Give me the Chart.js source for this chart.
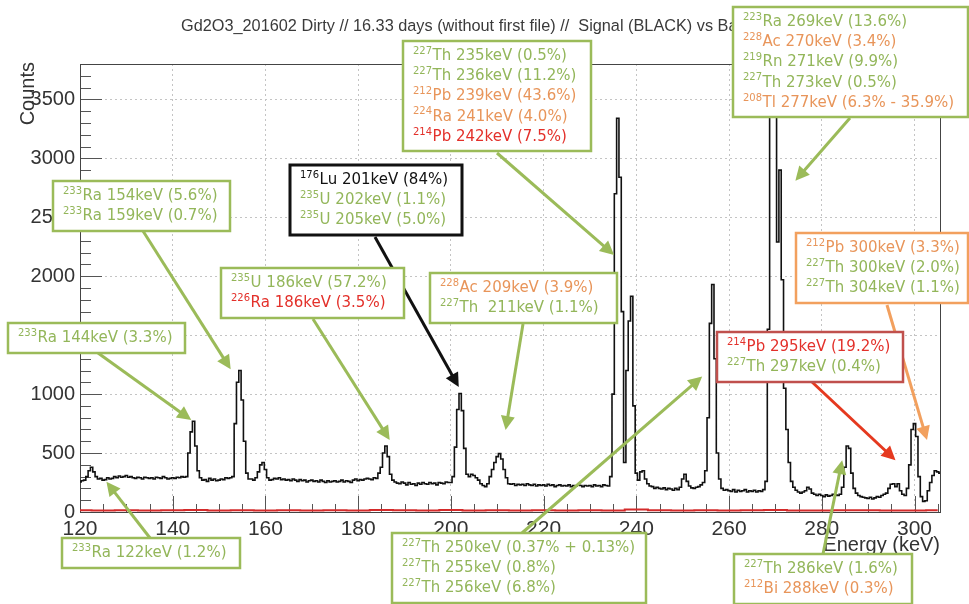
<!DOCTYPE html>
<html>
<head>
<meta charset="utf-8">
<script src="https://cdn.jsdelivr.net/npm/chart.js@4"></script>
<style>
html, body { margin: 0; padding: 0; background: #fff; }
canvas { display: block; }
</style>
</head>
<body>
<canvas id="spectrum" width="969" height="604"></canvas>
<script>
// histogram binning (keV)
const bin_start = 120;
const bin_width = 0.5;

// signal counts per 0.5 keV bin, one row = 5 keV
const signal_counts = [
  255, 265, 270, 300, 350, 380, 340, 300, 280, 285,        // 120
  270, 275, 290, 280, 285, 300, 290, 305, 295, 300,        // 125
  310, 295, 300, 290, 285, 295, 290, 280, 295, 290,        // 130
  285, 290, 280, 295, 290, 285, 300, 290, 280, 285,        // 135
  290, 285, 295, 290, 300, 295, 300, 500, 680, 770,        // 140
  560, 350, 290, 270, 275, 260, 285, 270, 280, 265,        // 145
  270, 280, 275, 290, 285, 290, 300, 750, 1100, 1200,      // 150
  950, 600, 330, 280, 280, 270, 290, 340, 400, 420,        // 155
  360, 290, 270, 275, 285, 280, 290, 275, 280, 270,        // 160
  275, 265, 280, 270, 260, 275, 265, 270, 255, 265,        // 165
  270, 260, 265, 255, 270, 260, 250, 265, 255, 260,        // 170
  265, 255, 260, 270, 255, 265, 260, 250, 270, 280,        // 175
  265, 275, 270, 280, 285, 280, 275, 290, 285, 330,        // 180
  380, 500, 560, 470, 320, 270, 255, 245, 240, 255,        // 185
  245, 230, 250, 235, 240, 225, 245, 235, 250, 240,        // 190
  235, 250, 240, 245, 230, 250, 245, 240, 255, 250,        // 195
  250, 300, 550, 870, 1005, 860, 540, 320, 300, 320,       // 200
  310, 290, 270, 240, 225, 215, 240, 300, 360, 420,        // 205
  470, 495, 450, 360, 290, 240, 235, 240, 225, 235,        // 210
  230, 235, 225, 240, 230, 225, 235, 220, 230, 225,        // 215
  230, 220, 235, 225, 230, 215, 225, 230, 220, 225,        // 220
  220, 230, 215, 225, 220, 230, 225, 215, 225, 220,        // 225
  225, 215, 230, 220, 225, 215, 230, 225, 220, 300,        // 230
  1000, 2700, 3340, 2840, 1700, 420, 1200, 1620, 1830, 900, // 235
  330, 270, 340, 350, 280, 240, 220, 215, 200, 210,        // 240
  200, 195, 205, 190, 200, 195, 185, 200, 190, 210,        // 245
  280, 320, 260, 220, 205, 200, 210, 215, 230, 250,        // 250
  350, 800, 1600, 1930, 1300, 500, 280, 200, 185, 190,     // 255
  180, 175, 190, 170, 185, 175, 180, 190, 170, 180,        // 260
  175, 185, 170, 180, 175, 190, 260, 1550, 3900, 5200,     // 265
  4400, 2290, 2900, 1970, 1050, 700, 420, 260, 210, 185,   // 270
  170, 160, 170, 180, 210, 195, 160, 150, 140, 150,        // 275
  140, 130, 145, 135, 140, 150, 145, 140, 150, 210,        // 280
  380, 560, 540, 330, 200, 160, 140, 130, 125, 120,        // 285
  115, 125, 110, 120, 130, 125, 140, 150, 160, 200,        // 290
  235, 240, 215, 240, 180, 150, 140, 200, 400, 700,        // 295
  750, 640, 300, 130, 90, 95, 180, 250, 310, 350,          // 300
  340, 330                                                 // 305
];

// background (red) counts per 5 keV
const background_start = 120;
const background_step = 5;
const background_counts = [
  14, 12, 15, 13, 14, 16, 12, 15, 13, 14,
  12, 15, 13, 16, 14, 12, 18, 13, 14, 12,
  15, 13, 14, 12, 22, 14, 13, 15, 12, 14,
  16, 13, 12, 14, 15, 13, 12, 14
];

const x_ticks = [120, 140, 160, 180, 200, 220, 240, 260, 280, 300];
const y_ticks = [0, 500, 1000, 1500, 2000, 2500, 3000, 3500];

const title_text = 'Gd2O3_201602 Dirty // 16.33 days (without first file) //  Signal (BLACK) vs Background (RED)';

const colors = {
  g: '#93b65a',
  o: '#e8955a',
  r: '#e3302a',
  k: '#111111'
};

// label boxes: [left, top, width] in px, arrow tip in (keV, counts)
const notes = [
  { box: [53, 181, 177], border: '#9bbb59', bw: 2.5,
    lines: [['233', 'Ra 154keV (5.6%)', 'g'], ['233', 'Ra 159keV (0.7%)', 'g']],
    arrow: { from: [143, 231], to: [152.5, 1210], color: '#9bbb59' } },
  { box: [8, 323, 177], border: '#9bbb59', bw: 2.5,
    lines: [['233', 'Ra 144keV (3.3%)', 'g']],
    arrow: { from: [98, 353], to: [144.0, 780], color: '#9bbb59' } },
  { box: [221, 268, 183], border: '#9bbb59', bw: 2.5,
    lines: [['235', 'U 186keV (57.2%)', 'g'], ['226', 'Ra 186keV (3.5%)', 'r']],
    arrow: { from: [313, 319], to: [186.8, 610], color: '#9bbb59' } },
  { box: [290, 165, 172], border: '#111', bw: 3,
    lines: [['176', 'Lu 201keV (84%)', 'k'], ['235', 'U 202keV (1.1%)', 'g'], ['235', 'U 205keV (5.0%)', 'g']],
    arrow: { from: [375, 237], to: [201.7, 1060], color: '#111' } },
  { box: [430, 273, 187], border: '#9bbb59', bw: 2.5,
    lines: [['228', 'Ac 209keV (3.9%)', 'o'], ['227', 'Th  211keV (1.1%)', 'g']],
    arrow: { from: [523, 324], to: [211.8, 695], color: '#9bbb59' } },
  { box: [403, 41, 188], border: '#9bbb59', bw: 2.5,
    lines: [['227', 'Th 235keV (0.5%)', 'g'], ['227', 'Th 236keV (11.2%)', 'g'], ['212', 'Pb 239keV (43.6%)', 'o'],
            ['224', 'Ra 241keV (4.0%)', 'o'], ['214', 'Pb 242keV (7.5%)', 'r']],
    arrow: { from: [497, 153], to: [235.2, 2180], color: '#9bbb59' } },
  { box: [733, 7, 235], border: '#9bbb59', bw: 2.5,
    lines: [['223', 'Ra 269keV (13.6%)', 'g'], ['228', 'Ac 270keV (3.4%)', 'o'], ['219', 'Rn 271keV (9.9%)', 'g'],
            ['227', 'Th 273keV (0.5%)', 'g'], ['208', 'Tl 277keV (6.3% - 35.9%)', 'o']],
    arrow: { from: [850, 118], to: [274.3, 2810], color: '#9bbb59' } },
  { box: [796, 233, 172], border: '#f2a05e', bw: 2.5,
    lines: [['212', 'Pb 300keV (3.3%)', 'o'], ['227', 'Th 300keV (2.0%)', 'g'], ['227', 'Th 304keV (1.1%)', 'g']],
    arrow: { from: [887, 305], to: [302.7, 610], color: '#f2a05e' } },
  { box: [717, 332, 186], border: '#c0504d', bw: 2.5,
    lines: [['214', 'Pb 295keV (19.2%)', 'r'], ['227', 'Th 297keV (0.4%)', 'g']],
    arrow: { from: [812, 382], to: [295.9, 440], color: '#e5391f' } },
  { box: [62, 538, 178], border: '#9bbb59', bw: 2.5,
    lines: [['233', 'Ra 122keV (1.2%)', 'g']],
    arrow: { from: [150, 538], to: [125.7, 257], color: '#9bbb59' } },
  { box: [392, 533, 254], border: '#9bbb59', bw: 2.5,
    lines: [['227', 'Th 250keV (0.37% + 0.13%)', 'g'], ['227', 'Th 255keV (0.8%)', 'g'], ['227', 'Th 256keV (6.8%)', 'g']],
    arrow: { from: [522, 533], to: [254.2, 1150], color: '#9bbb59' } },
  { box: [734, 554, 178], border: '#9bbb59', bw: 2.5,
    lines: [['227', 'Th 286keV (1.6%)', 'g'], ['212', 'Bi 288keV (0.3%)', 'o']],
    arrow: { from: [823, 554], to: [284.4, 440], color: '#9bbb59' } }
];

const signal_points = signal_counts.map((c, i) => ({ x: bin_start + i * bin_width, y: c }));
const background_points = background_counts.map((c, i) => ({ x: background_start + i * background_step, y: c }));

function drawArrow(ctx, x0, y0, x1, y1, color) {
  const ang = Math.atan2(y1 - y0, x1 - x0);
  const head = 14, half = 7;
  ctx.save();
  ctx.strokeStyle = color;
  ctx.fillStyle = color;
  ctx.lineWidth = 3;
  ctx.beginPath();
  ctx.moveTo(x0, y0);
  ctx.lineTo(x1 - Math.cos(ang) * head * 0.8, y1 - Math.sin(ang) * head * 0.8);
  ctx.stroke();
  ctx.beginPath();
  ctx.moveTo(x1, y1);
  ctx.lineTo(x1 - head * Math.cos(ang) + half * Math.sin(ang), y1 - head * Math.sin(ang) - half * Math.cos(ang));
  ctx.lineTo(x1 - head * Math.cos(ang) - half * Math.sin(ang), y1 - head * Math.sin(ang) + half * Math.cos(ang));
  ctx.closePath();
  ctx.fill();
  ctx.restore();
}

function drawNote(ctx, note) {
  const [left, top, width] = note.box;
  const height = note.lines.length * 20 + 10;
  ctx.save();
  ctx.fillStyle = '#fff';
  ctx.fillRect(left, top, width, height);
  ctx.strokeStyle = note.border;
  ctx.lineWidth = note.bw;
  ctx.strokeRect(left, top, width, height);
  ctx.textBaseline = 'middle';
  ctx.textAlign = 'left';
  note.lines.forEach((ln, i) => {
    const [sup, txt, c] = ln;
    const cy = top + 15 + i * 20.3;
    ctx.fillStyle = colors[c];
    ctx.font = '10px "DejaVu Sans"';
    ctx.fillText(sup, left + 10, cy - 5);
    const sw = ctx.measureText(sup).width;
    ctx.font = '15px "DejaVu Sans"';
    ctx.fillText(txt, left + 10 + sw + 0.5, cy);
  });
  ctx.restore();
}

const frame_plugin = {
  id: 'frame',
  beforeDatasetsDraw(chart) {
    const { ctx, chartArea: a, scales } = chart;
    ctx.save();
    ctx.strokeStyle = '#555';
    ctx.lineWidth = 1;
    // minor / major tick marks, ROOT style (inside the frame)
    ctx.beginPath();
    for (let v = 0; v <= 3800; v += 100) {
      const y = Math.round(scales.y.getPixelForValue(v)) + 0.5;
      const len = v % 500 === 0 ? 22 : 11;
      ctx.moveTo(a.left, y);
      ctx.lineTo(a.left + len, y);
    }
    for (let v = 120; v <= 305; v += 5) {
      const x = Math.round(scales.x.getPixelForValue(v)) + 0.5;
      const len = v % 20 === 0 ? 16 : 8;
      ctx.moveTo(x, a.bottom);
      ctx.lineTo(x, a.bottom - len);
    }
    ctx.stroke();
    ctx.strokeStyle = '#444';
    ctx.strokeRect(a.left + 0.5, a.top + 0.5, a.right - a.left, a.bottom - a.top);
    ctx.restore();
  }
};

const notes_plugin = {
  id: 'notes',
  afterDraw(chart) {
    const { ctx, scales, chartArea: a } = chart;
    ctx.save();
    // title
    ctx.fillStyle = '#3a3a3a';
    ctx.font = '16.3px "Liberation Sans"';
    ctx.textBaseline = 'middle';
    ctx.textAlign = 'left';
    ctx.fillText(title_text, 181, 27);
    // axis titles
    ctx.fillStyle = '#333';
    ctx.font = '20px "Liberation Sans"';
    ctx.textAlign = 'right';
    ctx.fillText('Energy (keV)', a.right, 545);
    ctx.save();
    ctx.translate(28, 62);
    ctx.rotate(-Math.PI / 2);
    ctx.textAlign = 'right';
    ctx.fillText('Counts', 0, 0);
    ctx.restore();
    ctx.restore();
    notes.forEach(n => {
      const tx = scales.x.getPixelForValue(n.arrow.to[0]);
      const ty = scales.y.getPixelForValue(n.arrow.to[1]);
      drawArrow(ctx, n.arrow.from[0], n.arrow.from[1], tx, ty, n.arrow.color);
    });
    notes.forEach(n => drawNote(ctx, n));
  }
};

new Chart(document.getElementById('spectrum'), {
  type: 'line',
  data: {
    datasets: [
      { label: 'Signal', data: signal_points, stepped: 'middle', borderColor: '#111',
        borderWidth: 1.6, pointRadius: 0, fill: false },
      { label: 'Background', data: background_points, stepped: 'middle', borderColor: '#d42a2a',
        borderWidth: 2, pointRadius: 0, fill: false }
    ]
  },
  options: {
    responsive: false,
    animation: false,
    devicePixelRatio: 1,
    events: [],
    layout: { padding: { left: 0, top: 64, right: 29, bottom: 0 } },
    plugins: { legend: { display: false }, tooltip: { enabled: false } },
    scales: {
      x: {
        type: 'linear', min: 120, max: 305.5,
        afterBuildTicks: s => { s.ticks = x_ticks.map(v => ({ value: v })); },
        afterFit: s => { s.height = 92; },
        grid: { color: '#c4c4c4', drawTicks: false, lineWidth: 1 },
        border: { display: false, dash: [2, 3] },
        ticks: { padding: 5, color: '#333', font: { family: 'Liberation Sans', size: 21 }, maxRotation: 0,
                 callback: v => String(v) }
      },
      y: {
        type: 'linear', min: 0, max: 3800,
        afterBuildTicks: s => { s.ticks = y_ticks.map(v => ({ value: v })); },
        afterFit: s => { s.width = 80; },
        grid: { color: '#c4c4c4', drawTicks: false, lineWidth: 1 },
        border: { display: false, dash: [2, 3] },
        ticks: { padding: 5, color: '#333', font: { family: 'Liberation Sans', size: 20 },
                 callback: v => String(v) }
      }
    }
  },
  plugins: [frame_plugin, notes_plugin]
});
</script>
</body>
</html>
